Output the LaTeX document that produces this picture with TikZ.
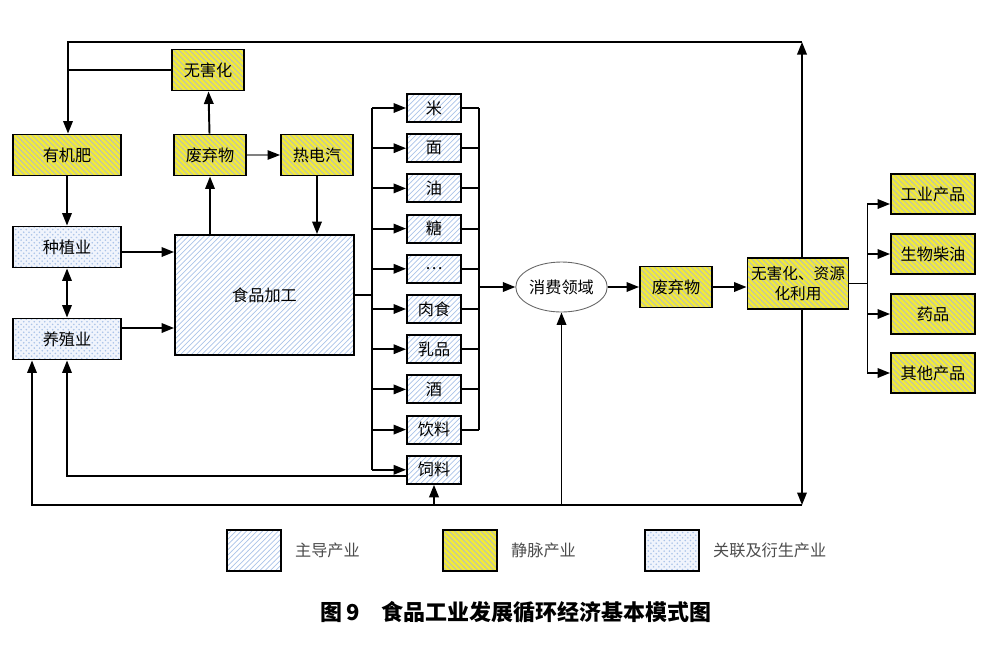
\documentclass[tikz,border=0pt]{standalone}
\usepackage{fontspec}
\setmainfont{Noto Sans CJK SC}
\usetikzlibrary{patterns,shapes.geometric,arrows.meta,positioning}
\definecolor{vyellow}{RGB}{242,234,58}
\definecolor{hgray}{RGB}{175,185,205}
\definecolor{hblue}{RGB}{170,195,232}
\definecolor{dblue}{RGB}{240,244,252}
\tikzset{
	box/.style={draw,line width=1.1pt,inner sep=0pt,font=\fontsize{9.2}{11.5}\selectfont},
	jm/.style={box,preaction={fill=vyellow},pattern=north west lines,pattern color=hgray},
	zd/.style={box,pattern=north east lines,pattern color=hblue},
	gl/.style={box,preaction={fill=dblue},pattern=crosshatch dots,pattern color=hblue},
	sbox/.style={minimum width=1.44cm,minimum height=0.82cm},
	wbox/.style={minimum width=2.16cm,minimum height=0.82cm},
	pbox/.style={minimum width=1.08cm,minimum height=0.56cm},
	obox/.style={minimum width=1.68cm,minimum height=0.8cm},
	lbox/.style={minimum width=1.08cm,minimum height=0.82cm},
	lbl/.style={text=black!70,font=\fontsize{9.2}{11}\selectfont},
	arr/.style={line width=1.1pt,-{Triangle[length=2.5mm,width=1.9mm]}},
	arrb/.style={line width=1.1pt,{Triangle[length=2.5mm,width=1.9mm]}-{Triangle[length=2.5mm,width=1.9mm]}},
	ln/.style={line width=1.1pt}
}
\begin{document}
\begin{tikzpicture}[x=0.02cm,y=-0.02cm]
	\useasboundingbox (0,0) rectangle (1000,667);
	\node[jm,sbox] (harm) at (208,70) {无害化};
	\node[jm,wbox] (fert) at (67,155) {有机肥};
	\node[jm,sbox] (waste) at (210,155) {废弃物};
	\node[jm,sbox] (heat) at (317,155) {热电汽};
	\node[gl,wbox] (plant) at (67,247) {种植业};
	\node[gl,wbox] (breed) at (67,339) {养殖业};
	\node[zd,minimum width=3.58cm,minimum height=2.4cm] (proc) at (264.5,295) {食品加工};
	\foreach \name/\txt [count=\i] in {rice/米,flour/面,oil/油,sugar/糖,etc/…,meat/肉食,milk/乳品,wine/酒,drink/饮料,feed/饲料}{
		\node[zd,pbox] (\name) at (434,{108+40.2*(\i-1)}) {\txt};
		\coordinate (lb\i) at (372,{108+40.2*(\i-1)});
		\draw[arr] (lb\i) -- (\name);
	}
	\draw[ln] (lb1) -- (lb10);
	\draw[ln] (proc.east) -- (proc.east -| lb1);
	\coordinate (rb) at (479,108);
	\foreach \name in {rice,flour,oil,sugar,etc,meat,milk,wine,drink}
		\draw[ln] (\name.east) -- (\name.east -| rb);
	\draw[ln] (rb) -- (rb |- drink.east);
	\node[ellipse,draw=black!60,line width=0.5pt,minimum width=1.78cm,minimum height=1cm,inner sep=0pt,font=\fontsize{9.2}{11}\selectfont] (cons) at (561.5,287) {消费领域};
	\draw[arr] (cons.west -| rb) -- (cons);
	\node[jm,sbox] (waste2) at (676,287) {废弃物};
	\node[jm,minimum width=2.02cm,minimum height=1.02cm,align=center,font=\fontsize{8.9}{11.5}\selectfont] (util) at (798,283.5) {无害化、资源\\化利用};
	\draw[arr] (cons) -- (waste2);
	\draw[arr] (waste2) -- (waste2 -| util.west);
	\foreach \name/\txt/\yy/\dy in {ind/工业产品/194/-0.2,bio/生物柴油/254/0,drug/药品/314/0,other/其他产品/373/0}{
		\node[jm,obox] (\name) at (933,\yy) {\txt};
		\draw[arr] (util.east) -- ++(18,0) |- ([yshift=\dy cm]\name.west);
	}
	\coordinate (tr) at (802,42);
	\coordinate (tl) at (68,42);
	\coordinate (br) at (802,505);
	\coordinate (bl) at (32,505);
	\draw[arr] (util.north -| tr) -- (tr);
	\draw[arr] (tr) -- (tl) -- (fert.north -| tl);
	\draw[ln] (harm.west) -- (harm.west -| tl);
	\draw[arr] (util.south -| br) -- (br);
	\draw[arr] (br) -- (bl) -- (bl |- breed.south);
	\draw[arr] (cons |- br) -- (cons);
	\draw[arr] (feed |- br) -- (feed);
	\draw[arr] ([yshift=-0.13cm]feed.west) -| (breed.south);
	\draw[arr] (fert) -- (plant);
	\draw[arrb] (plant) -- (breed);
	\draw[arr] ([yshift=-0.1cm]plant.east) -- ([yshift=-0.1cm]plant.east -| proc.west);
	\draw[arr] ([yshift=0.22cm]breed.east) -- ([yshift=0.22cm]breed.east -| proc.west);
	\draw[arr] (proc.north -| waste) -- (waste);
	\draw[arr] (waste) -- (harm);
	\draw[line width=0.6pt,draw=gray,-{Triangle[length=2.5mm,width=1.9mm,color=black]}] (waste) -- (heat);
	\draw[arr] (heat) -- (heat |- proc.north);
	\node[zd,lbox] (lzd) at (254,550.5) {};
	\node[lbl,right=0.14cm of lzd] (tzd) {主导产业};
	\node[jm,lbox] (ljm) at (470,550.5) {};
	\node[lbl,right=0.14cm of ljm] (tjm) {静脉产业};
	\node[gl,lbox] (lgl) at (672,550.5) {};
	\node[lbl,right=0.14cm of lgl] (tgl) {关联及衍生产业};
	\node[font=\fontsize{12.5}{14}\selectfont\bfseries] (cap) at (516,612) {图\,9\quad 食品工业发展循环经济基本模式图};
\end{tikzpicture}
\end{document}
